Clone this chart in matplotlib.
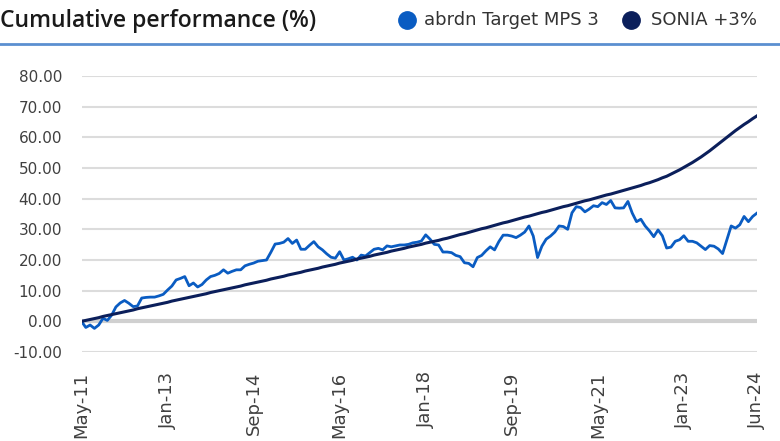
import matplotlib
matplotlib.use("Agg")
import matplotlib.pyplot as plt
from matplotlib.lines import Line2D

plt.rcParams['font.family'] = ['Roboto', 'DejaVu Sans']

# monthly cumulative performance, May-11 .. Jun-24
fund = [
    0.0, -2.0, -1.2, -2.3, -1.2, 1.0, 0.3, 2.0, 4.7, 6.0, 6.8, 5.9,
    4.8, 5.0, 7.6, 7.8, 7.9, 7.9, 8.3, 8.8, 10.2, 11.5, 13.5, 14.0,
    14.6, 11.6, 12.5, 11.2, 12.0, 13.5, 14.6, 15.0, 15.6, 16.8, 15.7, 16.3,
    16.8, 16.8, 18.1, 18.6, 19.0, 19.6, 19.8, 20.0, 22.5, 25.2, 25.4, 25.8,
    27.0, 25.4, 26.5, 23.5, 23.5, 24.8, 26.0, 24.3, 23.3, 22.0, 20.9, 20.6,
    22.7, 20.0, 20.4, 20.9, 20.0, 21.6, 21.3, 22.4, 23.5, 23.8, 23.3, 24.6,
    24.3, 24.6, 24.9, 24.9, 25.1, 25.6, 25.8, 26.2, 28.2, 26.8, 25.1, 24.9,
    22.6, 22.6, 22.4, 21.5, 21.1, 19.1, 18.9, 17.8, 20.8, 21.5, 23.0, 24.3,
    23.3, 26.0, 28.1, 28.1, 27.8, 27.3, 28.1, 29.1, 31.1, 27.8, 20.8, 24.5,
    26.8, 27.8, 29.1, 31.1, 30.9, 30.0, 35.4, 37.4, 37.1, 35.7, 36.6, 37.7,
    37.4, 38.7, 38.1, 39.4, 37.0, 36.9, 37.0, 39.1, 35.3, 32.5, 33.3, 31.1,
    29.5, 27.6, 29.8, 27.9, 23.9, 24.2, 26.1, 26.6, 27.9, 26.1, 26.1, 25.6,
    24.5, 23.4, 24.7, 24.5, 23.6, 22.1, 26.6, 31.1, 30.4, 31.5, 34.2, 32.5,
    34.2, 35.3,
]

sonia = [
    0.0, 0.3, 0.6, 0.9, 1.2, 1.6, 1.9, 2.2, 2.5, 2.8, 3.1, 3.4,
    3.7, 4.1, 4.4, 4.7, 5.0, 5.3, 5.6, 5.9, 6.2, 6.6, 6.9, 7.2,
    7.5, 7.8, 8.1, 8.4, 8.7, 9.0, 9.4, 9.7, 10.0, 10.3, 10.6, 10.9,
    11.2, 11.5, 11.9, 12.2, 12.5, 12.8, 13.1, 13.4, 13.8, 14.1, 14.4, 14.7,
    15.1, 15.4, 15.7, 16.0, 16.4, 16.7, 17.0, 17.3, 17.7, 18.0, 18.3, 18.6,
    19.0, 19.3, 19.6, 19.9, 20.3, 20.6, 20.9, 21.2, 21.6, 21.9, 22.2, 22.5,
    22.9, 23.2, 23.5, 23.8, 24.2, 24.5, 24.8, 25.1, 25.5, 25.8, 26.1, 26.4,
    26.8, 27.1, 27.5, 27.9, 28.3, 28.6, 29.0, 29.4, 29.8, 30.2, 30.5, 30.9,
    31.3, 31.7, 32.1, 32.4, 32.8, 33.2, 33.6, 34.0, 34.3, 34.7, 35.1, 35.5,
    35.8, 36.2, 36.6, 37.0, 37.4, 37.7, 38.1, 38.5, 38.9, 39.3, 39.6, 40.0,
    40.4, 40.8, 41.2, 41.5, 41.9, 42.3, 42.7, 43.1, 43.5, 43.9, 44.3, 44.8,
    45.2, 45.7, 46.2, 46.8, 47.3, 48.0, 48.7, 49.4, 50.2, 51.0, 51.8, 52.7,
    53.6, 54.6, 55.6, 56.7, 57.8, 58.9, 60.0, 61.1, 62.2, 63.2, 64.2, 65.1,
    66.1, 67.0,
]

tick_pos = [0, 20, 40, 60, 80, 100, 120, 140, 157]
tick_labels = ["May-11", "Jan-13", "Sep-14", "May-16", "Jan-18",
               "Sep-19", "May-21", "Jan-23", "Jun-24"]
y_ticks = [-10, 0, 10, 20, 30, 40, 50, 60, 70, 80]
series_names = ["abrdn Target MPS 3", "SONIA +3%"]

blue = "#0a5cc2"
navy = "#0b1f5b"
label_grey = "#404040"

fig = plt.figure(figsize=(7.8, 4.41), dpi=100)
ax = fig.add_axes([81.5 / 780, 1 - 352 / 441, (757 - 81.5) / 780, 276 / 441])

x = list(range(len(fund)))
ax.plot(x, fund, color=blue, lw=2.0, zorder=3)
ax.plot(x, sonia, color=navy, lw=2.2, zorder=4)

ax.set_xlim(0, len(fund) - 1)
ax.set_ylim(-10, 80)
ax.set_yticks(y_ticks)
ax.set_yticklabels([f"{v:.2f}" for v in y_ticks], fontsize=11,
                   family="DejaVu Sans")
ax.set_xticks(tick_pos)
ax.set_xticklabels(tick_labels, rotation=90, fontsize=13, family="DejaVu Sans")
ax.tick_params(length=0, colors=label_grey)
ax.tick_params(axis="y", pad=14)
ax.tick_params(axis="x", pad=14)

for v in y_ticks:
    if v == 0:
        ax.axhline(v, color="#d0d0d0", lw=3, zorder=1)
    else:
        ax.axhline(v, color="#dcdcdc", lw=1.5, zorder=1)
for s in ax.spines.values():
    s.set_visible(False)

fig.text(0.0, 1 - 21 / 441, "Cumulative performance (%)", fontsize=16.5,
         fontweight="semibold", family=["Open Sans", "DejaVu Sans"],
         color="#1a1a1a", va="center", ha="left")
fig.add_artist(Line2D([0, 1], [1 - 44 / 441, 1 - 44 / 441],
                      color="#5b8fd0", lw=2))

# legend swatches and labels
ly = 1 - 20 / 441
for cx, tx, col, name in [(407, 424, blue, series_names[0]),
                          (631, 651, navy, series_names[1])]:
    fig.add_artist(Line2D([cx / 780], [ly], marker="o", ls="", color=col,
                          markersize=12.5))
    fig.text(tx / 780, ly, name, fontsize=13, family="DejaVu Sans",
             color="#333333", va="center", ha="left")

fig.savefig("out.png", dpi=100)
